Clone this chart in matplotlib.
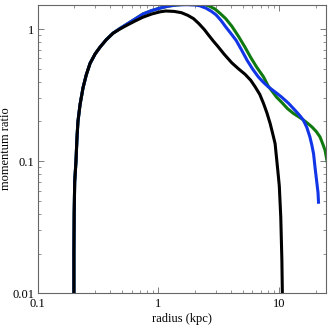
import matplotlib
matplotlib.use("Agg")
import matplotlib.pyplot as plt
from matplotlib.ticker import LogLocator, FuncFormatter, NullFormatter

# values (radius in kpc, momentum ratio)
rise_r = [0.2, 0.2, 0.201, 0.203, 0.208, 0.212, 0.216, 0.225, 0.238, 0.253,
          0.272, 0.3, 0.329, 0.37, 0.421]
rise_p = [0.005, 0.02, 0.04, 0.07, 0.1, 0.15, 0.2, 0.27, 0.36, 0.45,
          0.55, 0.65, 0.73, 0.83, 0.93]

black_r = rise_r + [0.48, 0.549, 0.64, 0.745, 0.88, 1.03, 1.15, 1.35, 1.55, 1.75,
                    1.95, 2.16, 2.4, 2.6, 2.85, 3.1, 3.5, 4.05, 4.6, 5.21, 5.8, 6.31,
                    6.9, 7.4, 7.9, 8.4, 8.8, 9.23, 9.72, 10.0, 10.28, 10.5,
                    10.6, 10.65]
black_p = rise_p + [1.0, 1.07, 1.15, 1.23, 1.3, 1.35, 1.37, 1.36, 1.33, 1.27,
                    1.2, 1.1, 0.99, 0.9, 0.81, 0.74, 0.645, 0.555, 0.5, 0.455, 0.41, 0.366,
                    0.32, 0.274, 0.232, 0.193, 0.163, 0.136, 0.085, 0.065, 0.038, 0.018,
                    0.01, 0.005]

blue_r = rise_r + [0.48, 0.549, 0.64, 0.745, 0.88, 1.03, 1.2, 1.4, 1.7, 2.0,
                   2.2, 2.47, 2.75, 3.0, 3.3, 3.6, 4.0, 4.4, 4.85, 5.42, 6.0,
                   6.7, 7.4, 8.1, 9.2, 10.4, 11.9, 13.5, 14.7, 15.8, 16.9,
                   17.9, 18.6, 19.2, 19.8, 20.4, 20.9, 21.1]
blue_p = rise_p + [1.01, 1.09, 1.19, 1.3, 1.38, 1.44, 1.49, 1.52, 1.53, 1.52,
                   1.5, 1.44, 1.36, 1.28, 1.16, 1.04, 0.92, 0.82, 0.7, 0.58, 0.5,
                   0.435, 0.395, 0.366, 0.335, 0.307, 0.275, 0.243, 0.223, 0.205, 0.18,
                   0.153, 0.132, 0.114, 0.088, 0.07, 0.058, 0.049]

green_r = rise_r + [0.48, 0.549, 0.64, 0.745, 0.88, 1.03, 1.2, 1.4, 1.7, 2.0,
                    2.3, 2.6, 2.93, 3.25, 3.6, 4.05, 4.6, 5.2, 5.8, 6.5, 7.4,
                    8.1, 8.8, 9.5, 10.4, 11.7, 13.1, 15.3, 17.0, 18.6, 20.2,
                    21.7, 22.9, 23.9, 24.6, 25.2]
green_p = rise_p + [1.01, 1.09, 1.19, 1.3, 1.38, 1.44, 1.49, 1.52, 1.55, 1.56,
                    1.55, 1.5, 1.42, 1.31, 1.2, 1.05, 0.88, 0.73, 0.61, 0.515, 0.435,
                    0.37, 0.335, 0.305, 0.281, 0.25, 0.23, 0.21, 0.195, 0.182, 0.168,
                    0.153, 0.135, 0.121, 0.105, 0.094]

plt.rcParams['font.family'] = ['Liberation Serif', 'DejaVu Serif']

fig = plt.figure(figsize=(3.32, 3.32), dpi=100)
ax = fig.add_axes([0.113, 0.116, 0.870, 0.87])

ax.plot(green_r, green_p, color='#107a10', lw=2.2, solid_joinstyle='round')
ax.plot(blue_r, blue_p, color='#1235e8', lw=2.2, solid_joinstyle='round')
ax.plot(black_r, black_p, color='black', lw=2.2, solid_joinstyle='round')

ax.set_xscale('log')
ax.set_yscale('log')
ax.set_xlim(0.1, 24.5)
ax.set_ylim(0.01, 1.53)

fmt = FuncFormatter(lambda v, pos: '%g' % v)
ax.xaxis.set_major_formatter(fmt)
ax.yaxis.set_major_formatter(fmt)
ax.xaxis.set_minor_formatter(NullFormatter())
ax.yaxis.set_minor_formatter(NullFormatter())
ax.xaxis.set_minor_locator(LogLocator(base=10, subs=range(2, 10)))
ax.yaxis.set_minor_locator(LogLocator(base=10, subs=range(2, 10)))

ax.tick_params(which='both', direction='in', top=True, right=True,
               color='#666666', labelsize=9)
ax.tick_params(axis='x', pad=3)
ax.tick_params(axis='y', pad=2.5)
ax.tick_params(which='major', length=4, width=0.6)
ax.tick_params(which='minor', length=2.5, width=0.5)
for s in ax.spines.values():
    s.set_color('#666666')
    s.set_linewidth(0.8)

ax.set_xlabel('radius (kpc)', fontsize=9)
ax.set_ylabel('momentum ratio', fontsize=9)
ax.xaxis.set_label_coords(0.5, -0.066)
ax.yaxis.set_label_coords(-0.088, 0.5)

fig.savefig('out.png', dpi=100)
